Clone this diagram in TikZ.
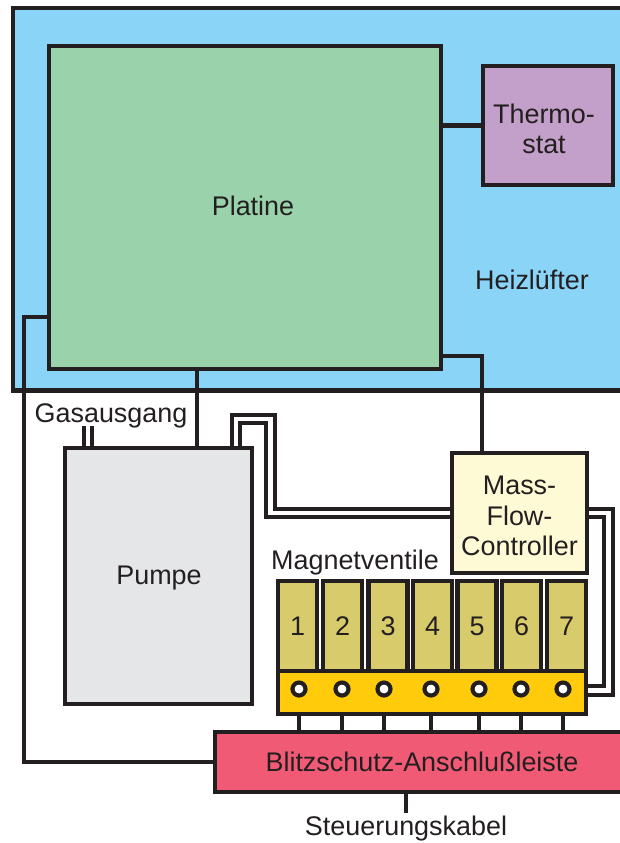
\documentclass[tikz,border=0pt]{standalone}
\usepackage{fontspec}
\setmainfont{Liberation Sans}
\definecolor{ink}{HTML}{231F20}
\definecolor{cblue}{HTML}{8AD4F7}
\definecolor{cgreen}{HTML}{9AD2AC}
\definecolor{cpurple}{HTML}{C3A0C9}
\definecolor{cgrey}{HTML}{E5E6E8}
\definecolor{ccream}{HTML}{FFFAD6}
\definecolor{colive}{HTML}{D7CB6B}
\definecolor{cyellow}{HTML}{FFCB0A}
\definecolor{cpink}{HTML}{F15A74}
\newcommand{\vnum}[1]{\raisebox{-0.75pt}{#1}}
\begin{document}
\begin{tikzpicture}[x=0.75pt,y=-0.75pt,
  every node/.style={text=ink,font=\fontsize{20.2}{23}\selectfont,inner sep=0pt,outer sep=0pt},
  box/.style={draw=ink,line width=3.1pt,miter limit=10,align=center},
  wire/.style={draw=ink,line width=3.1pt,line join=miter},
  thinwire/.style={draw=ink,line width=2.4pt},
  hole/.style={circle,draw=ink,fill=white,line width=3.1pt,minimum size=9.75pt},
  valve/.style={box,fill=colive,minimum width=29.25pt,minimum height=67.5pt},
  multi/.style={align=center}]
\useasboundingbox (0,0) rectangle (620,843);
\clip (0,0) rectangle (620,843);
\node[box,fill=cblue,minimum width=472.5pt,minimum height=286.9pt] (heater) at (328,199.25) {};
\node[box,fill=cgreen,minimum width=294pt,minimum height=242.25pt] (platine) at (244.75,207.5) {};
\node[box,fill=cpurple,minimum width=97.5pt,minimum height=89.25pt] (thermo) at (548,125.5) {};
\node[box,fill=cgrey,minimum width=140.25pt,minimum height=192pt] (pump) at (158.5,576) {};
\node[box,fill=ccream,minimum width=101.25pt,minimum height=90pt] (mfc) at (519.5,513) {};
\node[valve] (v1) at (297.5,626) {\vnum{1}};
\node[valve] (v2) at (342.5,626) {\vnum{2}};
\node[valve] (v3) at (388,626) {\vnum{3}};
\node[valve] (v4) at (432.5,626) {\vnum{4}};
\node[valve] (v5) at (477,626) {\vnum{5}};
\node[valve] (v6) at (521.5,626) {\vnum{6}};
\node[valve] (v7) at (566.5,626) {\vnum{7}};
\node[box,fill=cyellow,minimum width=231pt,minimum height=32.25pt] (rail) at (432,692.5) {};
\node[box,fill=cpink,minimum width=310.5pt,minimum height=45pt] (strip) at (422,762) {\raisebox{-2.25pt}{Blitzschutz-Anschlußleiste}};
\node[hole] (h1) at (299,689) {};
\node[hole] (h2) at (342,689) {};
\node[hole] (h3) at (384,689) {};
\node[hole] (h4) at (431,689) {};
\node[hole] (h5) at (479,689) {};
\node[hole] (h6) at (521,689) {};
\node[hole] (h7) at (563,689) {};
\node (tplat) at (253,206) {Platine};
\node (theiz) at (532,280) {Heizlüfter};
\node (tpump) at (159,578) {Pumpe};
\node (tgas) at (111,416) {Gasausgang};
\node (tmag) at (355,563) {Magnetventile};
\node (tkab) at (406,829) {Steuerungskabel};
\node[multi] (tthermo) at (544,129) {Thermo-\\stat};
\node[multi] (tmfc) at (519.5,516) {Mass-\\Flow-\\Controller};
\coordinate (gas1) at (84,426);
\coordinate (gas2) at (92,426);
\coordinate (cable) at (406,813);
% single wires
\draw[wire] (platine.east |- thermo.west) -- (thermo.west);
\draw[wire] (platine.east |- 0,356) -| (mfc.north -| 482,0);
\draw[wire] (platine.south -| 197,0) -- (pump.north -| 197,0);
\draw[wire] (platine.west |- 0,317) -| (24,762) -- (strip.west |- 0,762);
\draw[wire] (strip.south -| cable) -- (cable);
\draw[thinwire] (gas1) -- (pump.north -| gas1);
\draw[thinwire] (gas2) -- (pump.north -| gas2);
% double pipes
\draw[wire] (pump.north -| 232,0) |- (275,415) |- (mfc.west |- 0,509);
\draw[wire] (pump.north -| 240,0) |- (266,423) |- (mfc.west |- 0,517);
\draw[wire] (mfc.east |- 0,509) -| (613,695) -- (rail.east |- 0,695);
\draw[wire] (mfc.east |- 0,517) -| (604,686) -- (rail.east |- 0,686);
% rail to strip
\foreach \n in {1,...,7}
  \draw[wire] (rail.south -| h\n) -- (strip.north -| h\n);
\end{tikzpicture}
\end{document}
